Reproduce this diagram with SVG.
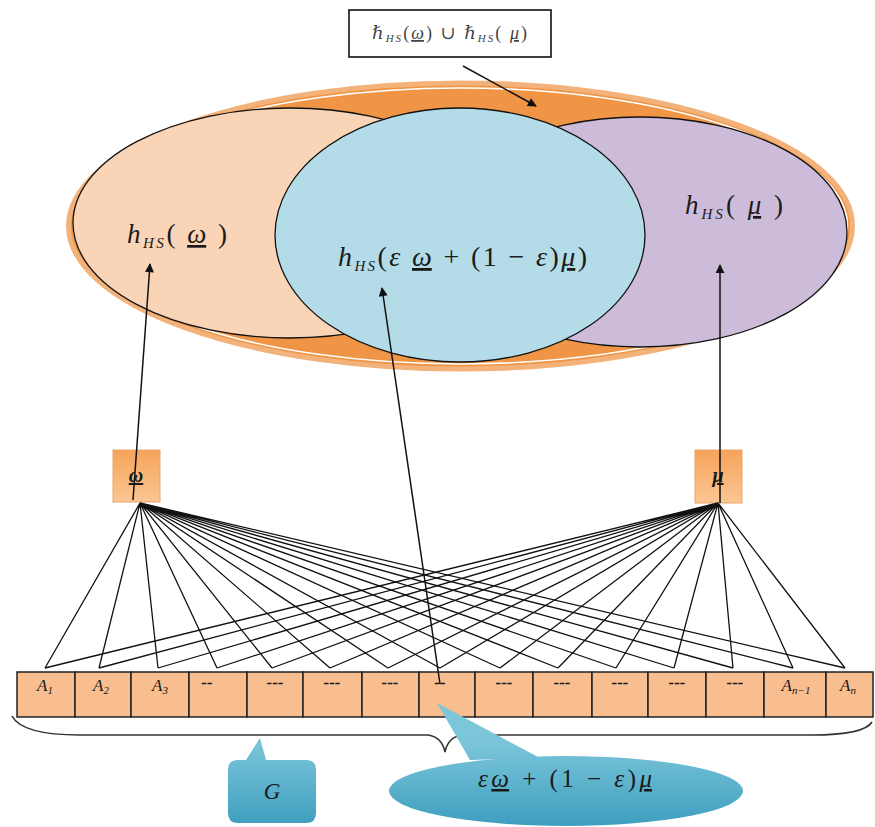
<svg xmlns="http://www.w3.org/2000/svg" width="875" height="827" viewBox="0 0 875 827">
<style>
.m{font-family:"Liberation Serif","DejaVu Serif",serif;font-style:italic;fill:#1a1a1a}
.n{font-style:normal}
.u{text-decoration:underline}
.sub{font-size:15px}
.cell{fill:#f8be90;stroke:#222;stroke-width:1.5}
.fan{stroke:#111;stroke-width:1.3;fill:none}
.arr{stroke:#111;stroke-width:1.5;fill:none;marker-end:url(#ah)}
.lbl{font-family:"Liberation Serif","DejaVu Serif",serif;font-size:18px;font-style:italic;fill:#444}
</style>
<defs>
<marker id="ah" viewBox="0 0 10 10" refX="9" refY="5" markerWidth="10" markerHeight="9" orient="auto" markerUnits="userSpaceOnUse">
<path d="M0,0 L10,5 L0,10 z" fill="#111"/>
</marker>
<linearGradient id="box" x1="0" y1="0" x2="0" y2="1">
<stop offset="0" stop-color="#f6a35a"/>
<stop offset="1" stop-color="#fbc693"/>
</linearGradient>
<linearGradient id="callG" gradientUnits="userSpaceOnUse" x1="0" y1="740" x2="0" y2="825">
<stop offset="0" stop-color="#7cc6da"/>
<stop offset="1" stop-color="#3f9fbf"/>
</linearGradient>
</defs>
<rect width="875" height="827" fill="#ffffff"/>

<g id="venn">
<ellipse cx="460.5" cy="226" rx="392" ry="143" fill="#ef9545" stroke="#f4b27b" stroke-width="5"/>
<ellipse cx="460.5" cy="226" rx="387" ry="138" fill="none" stroke="#ffffff" stroke-width="1.6"/>
<g id="hw">
<ellipse cx="290" cy="223" rx="217" ry="115" fill="#f9d4b6" stroke="#111" stroke-width="1.3"/>
<text class="m" x="127" y="243" font-size="27" textLength="100" lengthAdjust="spacing">h<tspan class="sub" dy="5">HS</tspan><tspan class="n" dy="-5">( </tspan><tspan class="u">ω</tspan><tspan class="n"> )</tspan></text>
</g>
<g id="hmu">
<ellipse cx="640" cy="232" rx="207" ry="115" fill="#cdbcd9" stroke="#111" stroke-width="1.3"/>
<text class="m" x="685" y="214" font-size="27" textLength="98" lengthAdjust="spacing">h<tspan class="sub" dy="5">HS</tspan><tspan class="n" dy="-5">( </tspan><tspan class="u">μ</tspan><tspan class="n"> )</tspan></text>
</g>
<g id="hmix">
<ellipse cx="460" cy="235" rx="185" ry="127" fill="#b4dce8" stroke="#111" stroke-width="1.3"/>
<text class="m" x="338" y="266" font-size="28" textLength="249" lengthAdjust="spacing">h<tspan class="sub" dy="5">HS</tspan><tspan class="n" dy="-5">(</tspan>ε <tspan class="u">ω</tspan><tspan class="n"> + (1 − </tspan>ε<tspan class="n">)</tspan><tspan class="u">μ</tspan><tspan class="n">)</tspan></text>
</g>
</g>

<g id="union-label">
<rect x="349" y="10" width="202" height="47" fill="#ffffff" stroke="#111" stroke-width="1.6"/>
<text class="lbl" x="372" y="39" textLength="155" lengthAdjust="spacing">ℏ<tspan font-size="11" dy="3">HS</tspan><tspan class="n" dy="-3">(</tspan><tspan class="u">ω</tspan><tspan class="n">) ∪ </tspan>ℏ<tspan font-size="11" dy="3">HS</tspan><tspan class="n" dy="-3">( </tspan><tspan class="u">μ</tspan><tspan class="n">)</tspan></text>
</g>

<g id="omega">
<rect x="113" y="450" width="47" height="52" fill="url(#box)" stroke="#e9a56c" stroke-width="1"/>
<text class="m" x="136" y="482" font-size="20" font-weight="bold" text-anchor="middle"><tspan class="u">ω</tspan></text>
</g>
<g id="mu">
<rect x="695" y="450" width="47" height="53" fill="url(#box)" stroke="#e9a56c" stroke-width="1"/>
<text class="m" x="718" y="482" font-size="20" font-weight="bold" text-anchor="middle"><tspan class="u">μ</tspan></text>
</g>

<g id="cells">
<rect class="cell" x="17" y="672" width="58" height="45"/>
<rect class="cell" x="75" y="672" width="56" height="45"/>
<rect class="cell" x="131" y="672" width="58" height="45"/>
<rect class="cell" x="189" y="672" width="58" height="45"/>
<rect class="cell" x="247" y="672" width="56" height="45"/>
<rect class="cell" x="303" y="672" width="59" height="45"/>
<rect class="cell" x="362" y="672" width="57" height="45"/>
<rect class="cell" x="419" y="672" width="56" height="45"/>
<rect class="cell" x="475" y="672" width="58" height="45"/>
<rect class="cell" x="533" y="672" width="59" height="45"/>
<rect class="cell" x="592" y="672" width="56" height="45"/>
<rect class="cell" x="648" y="672" width="58" height="45"/>
<rect class="cell" x="706" y="672" width="58" height="45"/>
<rect class="cell" x="764" y="672" width="62" height="45"/>
<rect class="cell" x="826" y="672" width="47" height="45"/>
<g class="m" font-size="17" text-anchor="middle">
<text x="45" y="691">A<tspan font-size="11" dy="3">1</tspan></text>
<text x="101" y="691">A<tspan font-size="11" dy="3">2</tspan></text>
<text x="160" y="691">A<tspan font-size="11" dy="3">3</tspan></text>
<text x="207" y="688" font-weight="bold">--</text>
<text x="275" y="688" font-weight="bold">---</text>
<text x="332" y="688" font-weight="bold">---</text>
<text x="390" y="688" font-weight="bold">---</text>
<text x="440" y="688" font-weight="bold">--</text>
<text x="504" y="688" font-weight="bold">---</text>
<text x="562" y="688" font-weight="bold">---</text>
<text x="620" y="688" font-weight="bold">---</text>
<text x="677" y="688" font-weight="bold">---</text>
<text x="735" y="688" font-weight="bold">---</text>
<text x="796" y="691">A<tspan font-size="11" dy="3">n−1</tspan></text>
<text x="848" y="691">A<tspan font-size="11" dy="3">n</tspan></text>
</g>
</g>

<g id="connectors">
<g class="fan">
<path d="M140,503 L45,668 M140,503 L99,668 M140,503 L158,668 M140,503 L217,668 M140,503 L272,668 M140,503 L330,668 M140,503 L388,668 M140,503 L440,668 M140,503 L500,668 M140,503 L558,668 M140,503 L616,668 M140,503 L674,668 M140,503 L733,668 M140,503 L793,668 M140,503 L845,668"/>
<path d="M718,503 L45,668 M718,503 L99,668 M718,503 L158,668 M718,503 L217,668 M718,503 L272,668 M718,503 L330,668 M718,503 L388,668 M718,503 L440,668 M718,503 L500,668 M718,503 L558,668 M718,503 L616,668 M718,503 L674,668 M718,503 L733,668 M718,503 L793,668 M718,503 L845,668"/>
</g>
<line class="arr" x1="133" y1="500" x2="150" y2="264"/>
<line class="arr" x1="440" y1="684" x2="382" y2="288"/>
<line class="arr" x1="720" y1="503" x2="720" y2="265"/>
<line class="arr" x1="463" y1="66" x2="536" y2="106"/>
<path d="M12,716 Q22,735 80,735 L428,735 Q442,737 445,752 Q448,737 462,735 L812,735 Q864,735 872,722" fill="none" stroke="#333" stroke-width="1.6"/>
</g>

<g id="G-callout">
<path d="M238,760 L246,760 L260,738 L266,760 L306,760 Q316,760 316,770 L316,813 Q316,823 306,823 L238,823 Q228,823 228,813 L228,770 Q228,760 238,760 Z" fill="url(#callG)"/>
<text class="m" x="272" y="799" font-size="23" text-anchor="middle">G</text>
</g>

<g id="mix-callout">
<ellipse cx="566" cy="791" rx="177" ry="35" fill="url(#callG)"/>
<path d="M437,703 L540,758 L470,760 Z" fill="url(#callG)"/>
<text class="m" x="478" y="787" font-size="25" textLength="174" lengthAdjust="spacing">ε<tspan class="u">ω</tspan><tspan class="n"> + (1 − </tspan>ε<tspan class="n">)</tspan><tspan class="u">μ</tspan></text>
</g>
</svg>
